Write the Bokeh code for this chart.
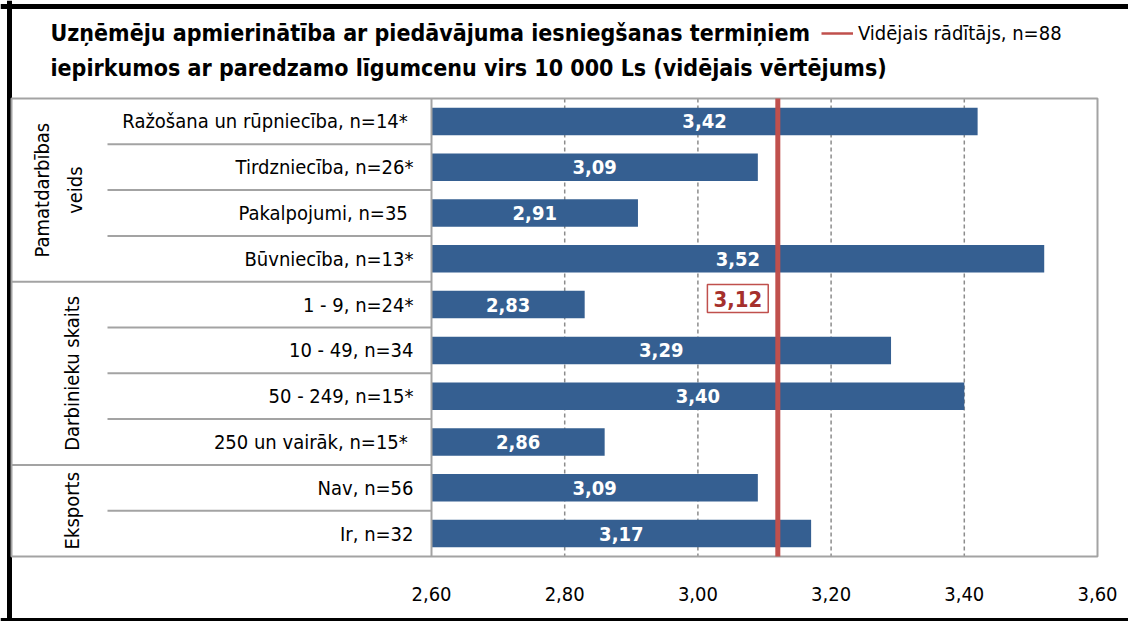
from bokeh.plotting import figure
from bokeh.models import (Range1d, FixedTicker, Legend, LegendItem, Label,
                          ColumnDataSource, CustomJSTickFormatter)
from bokeh.core.properties import value
from bokeh.embed import file_html
from bokeh.resources import INLINE

# ---------------- data ----------------
categories = ["Ražošana un rūpniecība,  n=14*", "Tirdzniecība, n=26*", "Pakalpojumi,  n=35",
              "Būvniecība, n=13*", "1 - 9, n=24*", "10 - 49, n=34", "50 - 249, n=15*",
              "250 un vairāk,  n=15*", "Nav, n=56", "Ir, n=32"]
values = [3.42, 3.09, 2.91, 3.52, 2.83, 3.29, 3.40, 2.86, 3.09, 3.17]
groups = ["Pamatdarbības\nveids", "Darbinieku skaits", "Eksports"]
group_sizes = [4, 4, 2]
mean_value = 3.12
mean_text = "3,12"
legend_label = "Vidējais rādītājs, n=88"
x_ticks = [2.6, 2.8, 3.0, 3.2, 3.4, 3.6]
title_lines = ["Uzņēmēju apmierinātība ar piedāvājuma iesniegšanas termiņiem",
               "iepirkumos ar paredzamo līgumcenu virs 10 000 Ls (vidējais vērtējums)"]

# ---------------- layout / style ----------------
FONT = "'Liberation Sans Narrow', 'Arial Narrow', 'DejaVu Sans Condensed', sans-serif"
BLUE = "#355F91"
RED = "#C0504D"
RED_TXT = "#A5302C"
GRAY = "#A3A3A3"

W, H = 1128, 621
AXIS_L, AXIS_R = 431, 1097          # pixel x of first / last tick
TABLE_T, ROW_H = 98, 45.8           # pixel y of table top, row height
n = len(categories)
px_per_unit = (AXIS_R - AXIS_L) / (x_ticks[-1] - x_ticks[0])


def px2x(px):
    return x_ticks[0] + (px - AXIS_L) / px_per_unit


def px2y(py):
    return -0.5 + (py - TABLE_T) / ROW_H


p = figure(width=W, height=H, output_backend="svg", toolbar_location=None,
           x_range=Range1d(px2x(0), px2x(W)), y_range=Range1d(px2y(H), px2y(0)),
           min_border=0, min_border_left=0, min_border_right=0,
           min_border_top=0, min_border_bottom=0)
p.outline_line_color = None
p.background_fill_color = "white"
p.border_fill_color = "white"

# axes
p.yaxis.visible = False
p.ygrid.visible = False
p.xgrid.visible = False
p.xaxis.fixed_location = n - 0.5
p.xaxis.ticker = FixedTicker(ticks=x_ticks)
p.xaxis.formatter = CustomJSTickFormatter(code="return tick.toFixed(2).replace('.', ',');")
p.xaxis.axis_line_color = None
p.xaxis.major_tick_line_color = None
p.xaxis.minor_tick_line_color = None
p.xaxis.major_label_standoff = 24
p.xaxis.major_label_text_font = FONT
p.xaxis.major_label_text_font_size = "20px"
p.xaxis.major_label_text_color = "black"

# outer black border (left, top, bottom)
p.vspan(x=[px2x(8.5)], line_color="black", line_width=5)
p.hspan(y=[px2y(5.5)], line_color="black", line_width=5)
p.hspan(y=[px2y(619.5)], line_color="black", line_width=5)

idx = list(range(n))
src = ColumnDataSource(dict(y=idx, right=values,
                            mid=[(x_ticks[0] + v) / 2 for v in values],
                            lab=[f"{v:.2f}".replace(".", ",") for v in values],
                            cat=categories))

# dashed grid inside the table rows
inner = x_ticks[1:-1]
p.segment(x0=inner, x1=inner, y0=[-0.5] * len(inner), y1=[n - 0.5] * len(inner),
          line_color="#8C8C8C", line_dash="4 3", line_width=1.5)

# bars
p.hbar(y="y", left=x_ticks[0], right="right", height=0.6, source=src,
       fill_color=BLUE, line_color=None)
p.text(x="mid", y="y", text="lab", source=src, text_color="white",
       text_font=value(FONT), text_font_style="bold", text_font_size="20px",
       text_align="center", text_baseline="middle")

# table box and axis line
p.quad(left=px2x(11), right=x_ticks[-1], top=-0.5, bottom=n - 0.5,
       fill_color=None, line_color=GRAY, line_width=2)
p.segment(x0=[x_ticks[0]], x1=[x_ticks[0]], y0=[-0.5], y1=[n - 0.5],
          line_color=GRAY, line_width=2)

# separators in the label column
sep_y, sep_x0 = [], []
start = 0
for gs in group_sizes:
    for k in range(1, gs):
        sep_y.append(start + k - 0.5)
        sep_x0.append(px2x(107))
    start += gs
    if start < n:
        sep_y.append(start - 0.5)
        sep_x0.append(px2x(11))
p.segment(x0=sep_x0, y0=sep_y, x1=x_ticks[0], y1=sep_y, line_color=GRAY, line_width=2)

# mean line
p.segment(x0=[mean_value], x1=[mean_value], y0=[-0.5], y1=[n - 0.5],
          line_color=RED, line_width=5)
# legend-only renderer (thinner sample line)
r_leg = p.segment(x0=[mean_value], x1=[mean_value], y0=[-0.5], y1=[n - 0.5],
                  line_color=RED, line_width=2.5, visible=False)

# category labels
p.text(x=x_ticks[0], y="y", text="cat", source=src, x_offset=-18,
       text_font=value(FONT), text_font_size="20px", text_color="black",
       text_align="right", text_baseline="middle")

# group labels (rotated)
gy, goff = [], []
start = 0
for g, gs in zip(groups, group_sizes):
    gy.append(start + (gs - 1) / 2)
    goff.append(-373 if "\n" in g else -360)
    start += gs
gsrc = ColumnDataSource(dict(y=gy, t=groups, off=goff))
p.text(x=x_ticks[0], y="y", text="t", x_offset="off", source=gsrc, angle=1.5707963,
       text_font=value(FONT), text_font_size="20px", text_color="black",
       text_align="center", text_baseline="middle", text_line_height=1.4)

# mean value box
p.add_layout(Label(x=mean_value, y=categories.index("1 - 9, n=24*"), x_offset=-40,
                   y_offset=6, text=mean_text, text_align="center", text_baseline="middle",
                   text_color=RED_TXT, text_font=FONT, text_font_style="bold",
                   text_font_size="22px", border_line_color=RED, border_line_width=1.5,
                   background_fill_color="white", padding=6))

# legend
legend = Legend(items=[LegendItem(label=legend_label, renderers=[r_leg])],
                location=(821, 576), border_line_color=None, background_fill_alpha=0,
                padding=0, margin=0, glyph_width=32, glyph_height=20, label_standoff=5,
                label_height=20, label_text_font=FONT, label_text_font_size="20px",
                label_text_color="black", label_text_baseline="middle")
p.add_layout(legend)

# title
for line, py in zip(title_lines, [32, 67]):
    p.add_layout(Label(x=px2x(50), y=px2y(py), text=line, text_align="left",
                       text_baseline="middle", text_font=FONT, text_font_size="23px",
                       text_font_style="bold", text_color="black"))

open("out.html", "w").write(file_html(p, INLINE))
